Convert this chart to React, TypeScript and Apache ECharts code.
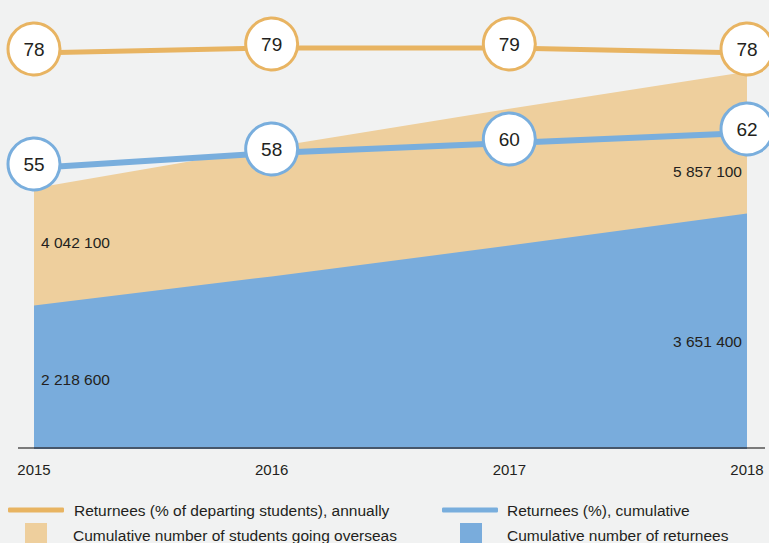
import React, { useEffect, useRef } from "react";
import * as echarts from "echarts";

const years = ["2015", "2016", "2017", "2018"];
const studentsOverseas = [4042100, 4680000, 5280000, 5857100];
const returnees = [2218600, 2670000, 3150000, 3651400];
const returneesAnnualPct = [78, 79, 79, 78];
const returneesCumulativePct = [55, 58, 60, 62];

const NAME_ANNUAL = "Returnees (% of departing students), annually";
const NAME_CUMUL = "Returnees (%), cumulative";
const NAME_OVERSEAS = "Cumulative number of students going overseas";
const NAME_RETURNEES = "Cumulative number of returnees";

const FONT = "'Liberation Sans', Arial, sans-serif";
const TEXT = "#231f20";
const ORANGE = "#e8b462";
const BLUE_LINE = "#79aedd";
const TAN = "#eecf9d";
const BLUE_AREA = "#79acdc";

const fmt = (v: number) => String(v).replace(/\B(?=(\d{3})+(?!\d))/g, " ");

function areaData(values: number[], firstOffset: number[], lastOffset: number[]) {
  const last = values.length - 1;
  return values.map((v, i) => ({
    value: v,
    label:
      i === 0
        ? { show: true, align: "left", offset: firstOffset }
        : i === last
        ? { show: true, align: "right", offset: lastOffset }
        : { show: false },
  }));
}

export default function App() {
  const ref = useRef<HTMLDivElement>(null);
  useEffect(() => {
    if (!ref.current) return;
    const chart = echarts.init(ref.current, null, { renderer: "svg" });
    const areaLabel = {
      show: false,
      position: "inside",
      verticalAlign: "middle",
      fontFamily: FONT,
      fontSize: 15.5,
      color: TEXT,
      formatter: (p: any) => fmt(p.value),
    };
    const circleLabel = {
      show: true,
      position: "inside",
      fontFamily: FONT,
      fontSize: 19,
      color: TEXT,
    };
    const legendText = { fontFamily: FONT, fontSize: 15.5, color: TEXT };
    chart.setOption({
      animation: false,
      backgroundColor: "#f1f2f2",
      grid: { left: 34, right: 22, top: 5, bottom: 95 },
      xAxis: {
        type: "category",
        data: years,
        boundaryGap: false,
        z: 10,
        axisLine: { show: true, lineStyle: { color: "#46566a", width: 2 } },
        axisTick: { show: false },
        axisLabel: { fontFamily: FONT, fontSize: 15, color: TEXT, margin: 14 },
        splitLine: { show: false },
      },
      yAxis: [
        { type: "value", min: 0, max: 6895000, show: false, splitLine: { show: false } },
        { type: "value", min: -1, max: 87.6, show: false, splitLine: { show: false } },
      ],
      legend: [
        {
          left: 8, top: 502, padding: 0, itemWidth: 56, itemHeight: 5, selectedMode: false,
          icon: "roundRect",
          data: [{ name: NAME_ANNUAL, itemStyle: { color: ORANGE, borderWidth: 0 } }],
          textStyle: { ...legendText, padding: [0, 0, 0, 5] },
        },
        {
          left: 442, top: 502, padding: 0, itemWidth: 56, itemHeight: 5, selectedMode: false,
          icon: "roundRect",
          data: [{ name: NAME_CUMUL, itemStyle: { color: BLUE_LINE, borderWidth: 0 } }],
          textStyle: { ...legendText, padding: [0, 0, 0, 4] },
        },
        {
          left: 25, top: 523, padding: 0, itemWidth: 22, itemHeight: 24, selectedMode: false,
          icon: "rect",
          data: [{ name: NAME_OVERSEAS, itemStyle: { color: TAN, borderWidth: 0 } }],
          textStyle: { ...legendText, padding: [0, 0, 0, 21] },
        },
        {
          left: 460, top: 523, padding: 0, itemWidth: 22, itemHeight: 24, selectedMode: false,
          icon: "rect",
          data: [{ name: NAME_RETURNEES, itemStyle: { color: BLUE_AREA, borderWidth: 0 } }],
          textStyle: { ...legendText, padding: [0, 0, 0, 20] },
        },
      ],
      graphic: [
        { type: "line", z: 20, shape: { x1: 18, y1: 448, x2: 34, y2: 448 }, style: { stroke: "#7b7b7b", lineWidth: 2 } },
        { type: "line", z: 20, shape: { x1: 747, y1: 448, x2: 765, y2: 448 }, style: { stroke: "#7b7b7b", lineWidth: 2 } },
      ],
      series: [
        {
          name: NAME_OVERSEAS,
          type: "line",
          yAxisIndex: 0,
          data: areaData(studentsOverseas, [7, 54], [-5, 100]),
          symbol: "circle",
          symbolSize: 0,
          showSymbol: true,
          itemStyle: { color: TAN },
          lineStyle: { width: 0 },
          areaStyle: { color: TAN, opacity: 1 },
          label: areaLabel,
          z: 1,
        },
        {
          name: NAME_RETURNEES,
          type: "line",
          yAxisIndex: 0,
          data: areaData(returnees, [7, 74], [-5, 128]),
          symbol: "circle",
          symbolSize: 0,
          showSymbol: true,
          itemStyle: { color: BLUE_AREA },
          lineStyle: { width: 0 },
          areaStyle: { color: BLUE_AREA, opacity: 1 },
          label: areaLabel,
          z: 2,
        },
        {
          name: NAME_CUMUL,
          type: "line",
          yAxisIndex: 1,
          data: returneesCumulativePct,
          symbol: "circle",
          symbolSize: 52,
          symbolOffset: [0, -4],
          itemStyle: { color: "#ffffff", borderColor: BLUE_LINE, borderWidth: 3 },
          lineStyle: { color: BLUE_LINE, width: 6 },
          label: circleLabel,
          z: 3,
        },
        {
          name: NAME_ANNUAL,
          type: "line",
          yAxisIndex: 1,
          data: returneesAnnualPct,
          symbol: "circle",
          symbolSize: 52,
          symbolOffset: [0, -4],
          itemStyle: { color: "#ffffff", borderColor: ORANGE, borderWidth: 3 },
          lineStyle: { color: ORANGE, width: 5 },
          label: circleLabel,
          z: 4,
        },
      ],
    });
    return () => chart.dispose();
  }, []);
  return (
    <div
      ref={ref}
      style={{ position: "absolute", left: 0, top: 0, width: 769, height: 543 }}
    />
  );
}
